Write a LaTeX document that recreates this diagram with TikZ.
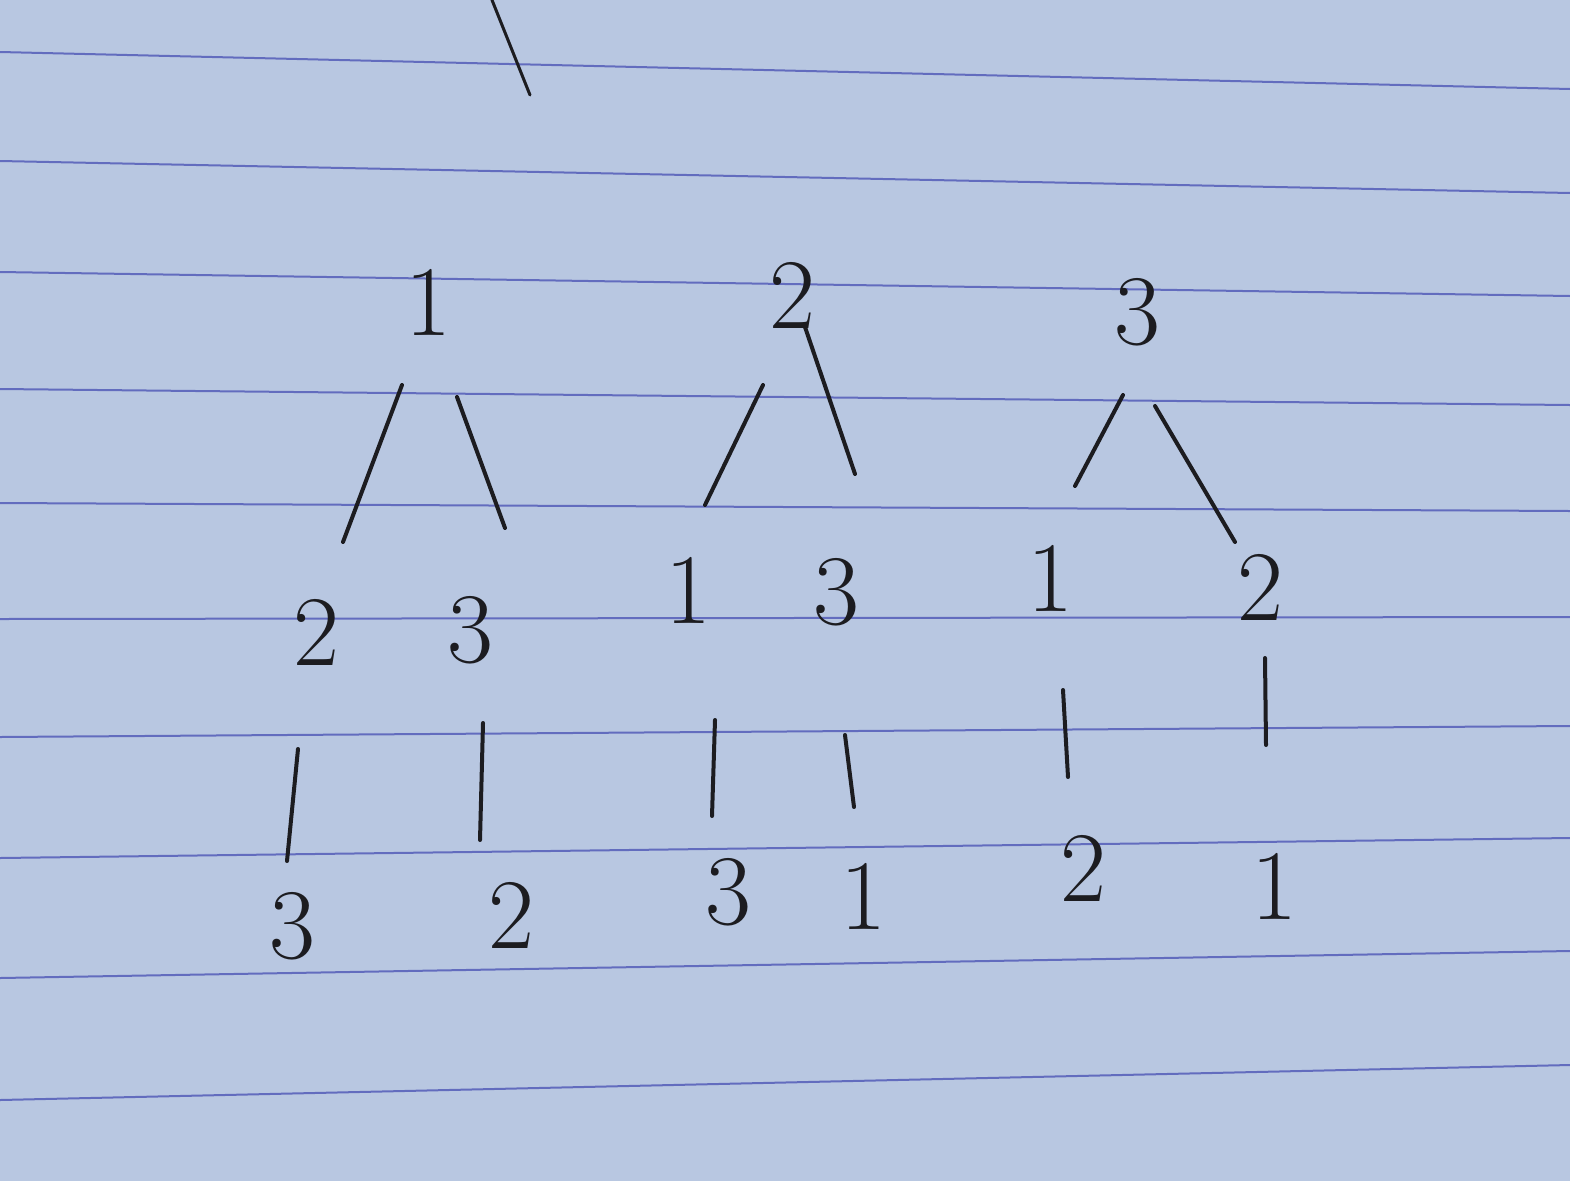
\documentclass[tikz,border=0pt]{standalone}
\begin{document}
\begin{tikzpicture}[x=1pt,y=-1pt,
  digit/.style={inner sep=0pt, text=ink, font=\fontsize{100}{100}\selectfont},
  stroke/.style={draw=ink, line width=4pt, line cap=round},
  rule/.style={draw=rulecol, line width=2pt}]
\definecolor{paper}{RGB}{184,199,225}
\definecolor{rulecol}{RGB}{98,108,190}
\definecolor{ink}{RGB}{28,28,32}
\fill[paper] (0,0) rectangle (1570,1181);
\useasboundingbox (0,0) rectangle (1570,1181);
% ruled lines
\foreach \a/\b in {52/89,161/193,272/296,389/405,503/511,619/617,737/726,858/838,978/951,1100/1065}
  \draw[rule] (0,\a) -- (1570,\b);
% stray stroke at top
\coordinate (s1) at (492,0);
\coordinate (s2) at (530,95);
\draw[stroke, line width=3pt] (s1) -- (s2);
% tree 1
\node[digit] (r1) at (428,302) {1};
\node[digit] (a1) at (316,632) {2};
\node[digit] (b1) at (470,630) {3};
\node[digit] (c1) at (292,926) {3};
\node[digit] (d1) at (511,915) {2};
\coordinate (e1) at (402,385); \coordinate (f1) at (343,542);
\coordinate (g1) at (457,397); \coordinate (h1) at (505,528);
\coordinate (i1) at (298,749); \coordinate (j1) at (287,861);
\coordinate (k1) at (483,723); \coordinate (l1) at (480,840);
\draw[stroke] (e1) -- (f1);
\draw[stroke] (g1) -- (h1);
\draw[stroke] (i1) -- (j1);
\draw[stroke] (k1) -- (l1);
% tree 2
\node[digit] (r2) at (792,295) {2};
\node[digit] (a2) at (688,590) {1};
\node[digit] (b2) at (836,592) {3};
\node[digit] (c2) at (728,892) {3};
\node[digit] (d2) at (863,896) {1};
\coordinate (e2) at (763,385); \coordinate (f2) at (705,505);
\coordinate (g2) at (805,327); \coordinate (h2) at (855,474);
\coordinate (i2) at (715,720); \coordinate (j2) at (712,816);
\coordinate (k2) at (845,735); \coordinate (l2) at (854,807);
\draw[stroke] (e2) -- (f2);
\draw[stroke] (g2) -- (h2);
\draw[stroke] (i2) -- (j2);
\draw[stroke] (k2) -- (l2);
% tree 3
\node[digit] (r3) at (1137,312) {3};
\node[digit] (a3) at (1050,578) {1};
\node[digit] (b3) at (1260,587) {2};
\node[digit] (c3) at (1083,868) {2};
\node[digit] (d3) at (1274,886) {1};
\coordinate (e3) at (1123,395); \coordinate (f3) at (1075,486);
\coordinate (g3) at (1155,406); \coordinate (h3) at (1235,542);
\coordinate (i3) at (1063,690); \coordinate (j3) at (1068,777);
\coordinate (k3) at (1265,658); \coordinate (l3) at (1266,745);
\draw[stroke] (e3) -- (f3);
\draw[stroke] (g3) -- (h3);
\draw[stroke] (i3) -- (j3);
\draw[stroke] (k3) -- (l3);
\end{tikzpicture}
\end{document}
